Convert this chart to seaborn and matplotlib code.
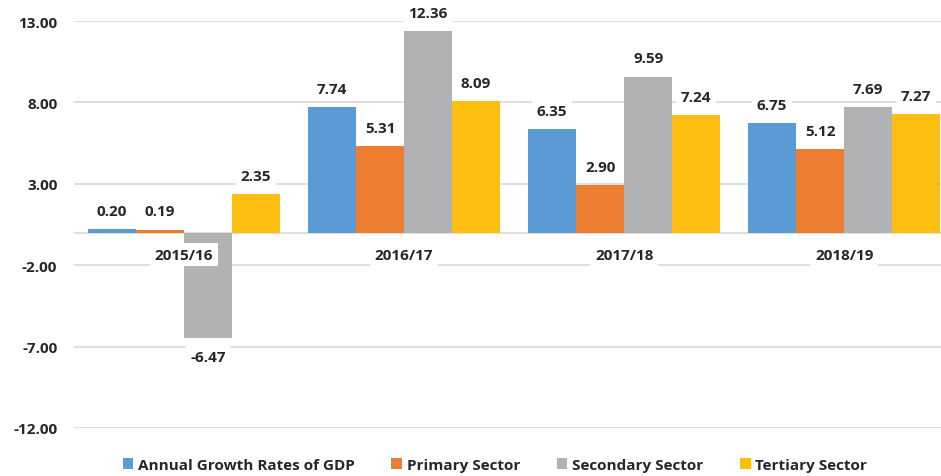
import matplotlib
matplotlib.use("Agg")
import matplotlib.pyplot as plt
import seaborn as sns
import pandas as pd

years = ["2015/16", "2016/17", "2017/18", "2018/19"]
series = ["Annual Growth Rates of GDP", "Primary Sector", "Secondary Sector", "Tertiary Sector"]
gdp = [0.20, 7.74, 6.35, 6.75]
primary = [0.19, 5.31, 2.90, 5.12]
secondary = [-6.47, 12.36, 9.59, 7.69]
tertiary = [2.35, 8.09, 7.24, 7.27]
yticks = [-12, -7, -2, 3, 8, 13]

colors = ["#5B9BD5", "#ED7D31", "#B1B2B4", "#FDBE12"]

rows = []
for s, vals in zip(series, [gdp, primary, secondary, tertiary]):
    for y, v in zip(years, vals):
        rows.append({"Year": y, "Series": s, "Value": v})
df = pd.DataFrame(rows)

sns.set_theme(style="white")
plt.rcParams["font.family"] = ["Open Sans", "DejaVu Sans"]

FS = 11
fig = plt.figure(figsize=(9.41, 4.77), dpi=100)
ax = fig.add_axes([74 / 941, 1 - 429 / 477, 1 - 74 / 941, (429 - 22) / 477])

sns.barplot(data=df, x="Year", y="Value", hue="Series", order=years, hue_order=series,
            palette=colors, width=0.873, gap=0, saturation=1, linewidth=0, ax=ax,
            legend=True, zorder=3)

ax.set_ylim(-12, 13)
ax.set_xlim(-0.5, 3.44)
ax.set_yticks(yticks)
ax.set_yticklabels([f"{t:.2f}" for t in yticks], fontsize=FS, fontweight="bold", color="#262626")
ax.tick_params(axis="y", length=0, pad=12)
ax.set_xticks([])
ax.set_xlabel("")
ax.set_ylabel("")
for sp in ax.spines.values():
    sp.set_visible(False)
ax.grid(axis="y", color="#D9D9D9", linewidth=1.2, zorder=0)
ax.axhline(0, color="#D9D9D9", linewidth=1.2, zorder=1)

for cont in ax.containers:
    for bar in cont:
        v = bar.get_height()
        x = bar.get_x() + bar.get_width() / 2
        if v >= 0:
            ax.annotate(f"{v:.2f}", (x, v), xytext=(0, 8), textcoords="offset points",
                        ha="center", va="bottom", fontsize=FS, fontweight="bold", color="#262626",
                        bbox=dict(boxstyle="square,pad=0.3", fc="white", ec="none"), zorder=5)
        else:
            ax.annotate(f"{v:.2f}", (x, v), xytext=(0, -9), textcoords="offset points",
                        ha="center", va="top", fontsize=FS, fontweight="bold", color="#262626",
                        bbox=dict(boxstyle="square,pad=0.3", fc="white", ec="none"), zorder=5)

for i, y in enumerate(years):
    ax.annotate(y, (i, 0), xytext=(0, -16), textcoords="offset points", ha="center", va="center",
                fontsize=FS, fontweight="bold", color="#262626",
                bbox=dict(boxstyle="square,pad=0.3", fc="white", ec="none"), zorder=6)

handles, labels = ax.get_legend_handles_labels()
ax.legend_.remove()
fig.legend(handles, labels, loc="center", bbox_to_anchor=(0.526, 1 - 466 / 477), ncol=4,
           frameon=False, handlelength=0.7, handleheight=0.7, handletextpad=0.3, columnspacing=2.4,
           prop={"size": FS, "weight": "bold"}, labelcolor="#262626")

fig.savefig("out.png", dpi=100)
